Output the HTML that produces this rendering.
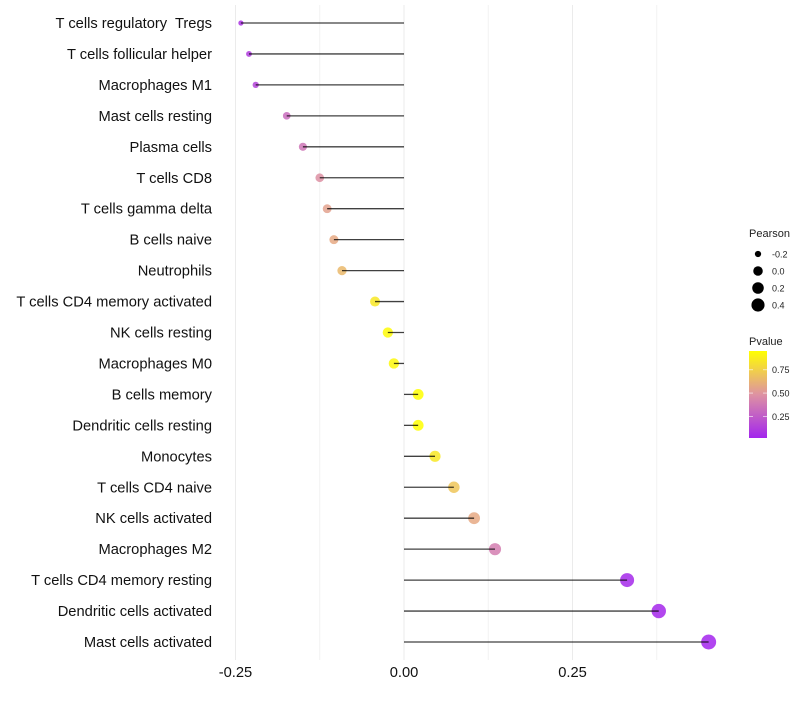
<!DOCTYPE html>
<html><head><meta charset="utf-8"><style>
body{margin:0;background:#fff;font-family:"Liberation Sans",sans-serif}
svg text{font-family:"Liberation Sans",sans-serif;white-space:pre}
</style></head><body>
<svg id="c" width="800" height="700"></svg>
<script>
const categories=["T cells regulatory  Tregs","T cells follicular helper","Macrophages M1","Mast cells resting","Plasma cells","T cells CD8","T cells gamma delta","B cells naive","Neutrophils","T cells CD4 memory activated","NK cells resting","Macrophages M0","B cells memory","Dendritic cells resting","Monocytes","T cells CD4 naive","NK cells activated","Macrophages M2","T cells CD4 memory resting","Dendritic cells activated","Mast cells activated"];
const pearson=[-0.242,-0.230,-0.220,-0.174,-0.150,-0.125,-0.114,-0.104,-0.092,-0.043,-0.024,-0.015,0.021,0.021,0.046,0.074,0.104,0.135,0.331,0.378,0.452];
const pvalue=[0.08,0.12,0.15,0.32,0.36,0.48,0.55,0.58,0.65,0.85,0.93,0.92,0.95,0.95,0.85,0.70,0.58,0.40,0.04,0.03,0.02];
const xTicks=[-0.25,0,0.25];
const xTickLabels=["-0.25","0.00","0.25"];
const sizeLegend=[-0.2,0,0.2,0.4];
const colorLegend=[0.25,0.5,0.75];
const NS="http://www.w3.org/2000/svg",svg=document.getElementById('c');
function el(t,a,p){const e=document.createElementNS(NS,t);for(const k in a)e.setAttribute(k,a[k]);(p||svg).appendChild(e);return e;}
const x=v=>404+v*674;
const y=i=>23+i*30.95;
const r=v=>2+5.5*Math.sqrt(Math.max(0,(v+0.25)/0.7));
const stops=[[0,[160,32,240]],[0.5,[224,150,160]],[0.95,[255,255,0]],[1,[255,255,0]]];
function col(p){for(let i=0;i<stops.length-1;i++){const[a,ca]=stops[i],[b,cb]=stops[i+1];if(p<=b){const t=Math.max(0,(p-a)/(b-a));return 'rgb('+ca.map((c,j)=>Math.round(c+(cb[j]-c)*t)).join(',')+')';}}return 'rgb(255,255,0)';}
const g=el('g',{});
[-0.125,0.125,0.375].forEach(v=>el('line',{x1:x(v),x2:x(v),y1:5,y2:660,stroke:'#f2f2f2','stroke-width':1},g));
xTicks.forEach(v=>el('line',{x1:x(v),x2:x(v),y1:5,y2:660,stroke:'#ebebeb','stroke-width':1},g));
xTicks.forEach((v,i)=>{const t=el('text',{x:x(v),y:677,'text-anchor':'middle','font-size':14.7,fill:'#111'});t.textContent=xTickLabels[i];});
categories.forEach((c,i)=>{
 const t=el('text',{x:212,y:y(i)+5,'text-anchor':'end','font-size':14.7,fill:'#111'});t.textContent=c;
 
 const d=el('circle',{cx:x(pearson[i]),cy:y(i),r:r(pearson[i]),fill:col(pvalue[i]),'fill-opacity':0.85});
 
 const l=el('line',{x1:x(0),x2:x(pearson[i]),y1:y(i),y2:y(i),stroke:'#000','stroke-opacity':0.75,'stroke-width':1.3});
 
});
const lg=el('g',{});
let tt=el('text',{x:749,y:237,'font-size':11,fill:'#222'},lg);tt.textContent='Pearson';
sizeLegend.forEach((v,i)=>{const cy=254+i*17;el('circle',{cx:758,cy:cy,r:r(v)*0.9,fill:'#000'},lg);const t=el('text',{x:772,y:cy+3.5,'font-size':9,fill:'#222'},lg);t.textContent=v.toFixed(1);});
tt=el('text',{x:749,y:345,'font-size':11,fill:'#222'},lg);tt.textContent='Pvalue';
const defs=el('defs',{});const gr=el('linearGradient',{id:'pg',x1:0,y1:1,x2:0,y2:0},defs);
[0,0.25,0.5,0.75,1].forEach(f=>el('stop',{offset:f,'stop-color':col(0.02+f*0.93)},gr));
el('rect',{x:749,y:351,width:18,height:87,fill:'url(#pg)'},lg);
const py=p=>438-(p-0.02)/0.93*87;
colorLegend.forEach(v=>{const yy=py(v);el('line',{x1:749,x2:753,y1:yy,y2:yy,stroke:'#fff','stroke-opacity':0.6},lg);el('line',{x1:763,x2:767,y1:yy,y2:yy,stroke:'#fff','stroke-opacity':0.6},lg);const t=el('text',{x:772,y:yy+3.5,'font-size':9,fill:'#222'},lg);t.textContent=v.toFixed(2);});
</script>
</body></html>
